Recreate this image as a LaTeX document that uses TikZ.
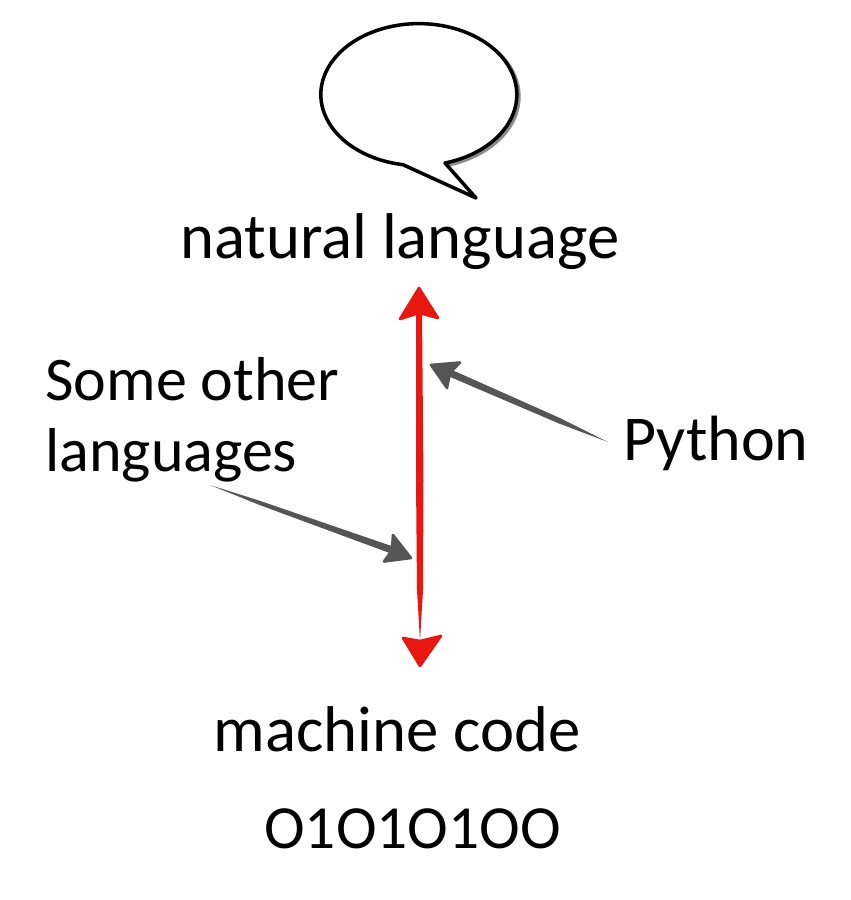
\documentclass[tikz,border=0pt]{standalone}
\usepackage{fontspec}
\setmainfont{Carlito}
\definecolor{arrowred}{RGB}{232,24,16}
\definecolor{arrowgray}{RGB}{85,85,85}
\tikzset{
  caption/.style={inner sep=0pt,font=\fontsize{36.8}{36}\selectfont,text=black},
  sidecaption/.style={inner sep=0pt,font=\fontsize{35.3}{36}\selectfont,text=black},
  redhead/.style={fill=arrowred,draw=arrowred,line width=1.5pt,line join=round},
  grayhead/.style={fill=arrowgray,draw=arrowgray,line width=1.5pt,line join=round},
}
\begin{document}
\begin{tikzpicture}[x=0.02cm,y=-0.02cm]
\useasboundingbox (0,0) rectangle (851,900);

% speech bubble
\draw [line width=2.2pt,black!45,shift={(2,2)}] (445,163) arc [start angle=285.5,end angle=400,x radius=1.96cm,y radius=1.42cm] ;
\draw [line width=2pt,fill=white,line join=round] (445,163) arc [start angle=285.5,end angle=620.6,x radius=1.96cm,y radius=1.42cm] -- (476,198) -- cycle ;

\node [caption,anchor=base] (natural) at (400,258) {natural language} ;
\node [sidecaption,anchor=base west] (other) at (45,400) {Some other} ;
\node [sidecaption,anchor=base west] (languages) at (45,471) {languages} ;
\node [caption,anchor=base west,font=\fontsize{36.4}{36}\selectfont] (python) at (623,460) {Python} ;
\node [caption,anchor=base] (machine) at (397,751) {machine code} ;
\node [sidecaption,anchor=base,font=\fontsize{34.9}{36}\selectfont] (bits) at (412.5,848) {O1O1O1OO} ;

\coordinate (redtop) at (419,313) ;
\coordinate (redbot) at (420,641) ;
\coordinate (pytail) at (608,442) ;
\coordinate (pyhead) at (450,373) ;
\coordinate (othertail) at (210,485) ;
\coordinate (otherhead) at (392,550) ;

% red double arrow
\fill [arrowred] (redtop) ++(-3,0) -- ++(6,0) -- (423.5,480) -- (423,590) -- (redbot) -- (417,590) -- (416,480) -- cycle ;
\draw [redhead] (419,288) -- (438,318) -- (redtop) -- (400,319) -- cycle ;
\draw [redhead] (420,666) -- (441,636) -- (redbot) -- (403,638) -- cycle ;

% gray pointers
\fill [arrowgray] (pytail) -- (561,418.5) -- (451,369.5) -- (449,376.5) -- (559,423.5) -- cycle ;
\draw [grayhead] (431,365) -- (460,362.5) -- (pyhead) -- (447,388) -- cycle ;
\fill [arrowgray] (othertail) -- (260.5,501) -- (393,546.5) -- (391,553.5) -- (259.5,505) -- cycle ;
\draw [grayhead] (411,558) -- (393,535) -- (otherhead) -- (384,561.5) -- cycle ;

\end{tikzpicture}
\end{document}
